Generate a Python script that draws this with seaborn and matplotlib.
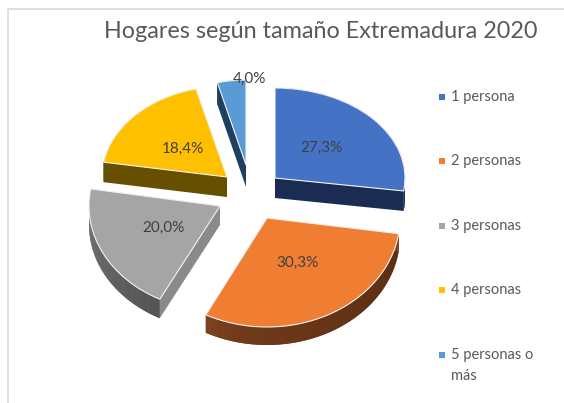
import numpy as np
import matplotlib
matplotlib.use("Agg")
import matplotlib.pyplot as plt
from matplotlib.colors import to_rgb
from matplotlib.transforms import Affine2D
import seaborn as sns

# data
categories = ["1 persona", "2 personas", "3 personas", "4 personas", "5 personas o\nmás"]
shares = [27.3, 30.3, 20.0, 18.4, 4.0]
labels = ["27,3%", "30,3%", "20,0%", "18,4%", "4,0%"]
title = "Hogares según tamaño Extremadura 2020"

# look
top_colors = sns.color_palette(["#4472C4", "#F07E32", "#A5A5A5", "#FFC000", "#5B9BD5"])
arc_light = ["#1A2C52", "#7D431F", "#8C8C8C", "#665000", "#1E3F5F"]
arc_dark = ["#1A2C52", "#5C2E13", "#555555", "#665000", "#1E3F5F"]
face_colors = ["#1A2C52", "#7D431F", "#8A8A8A", "#665000", "#1E3F5F"]

# fake 3D: apex of each slice in pixels, x/y radius, thickness
apex_x = [275, 267, 220, 227, 246]
apex_y = [178, 218, 206, 177, 165]
rad_x = [130, 133, 131, 125, 115]
rad_y = [90, 109, 105, 91, 85]
depth = [20, 18, 19, 20, 22]
label_x = [321, 297, 163, 183, 249]
label_y = [148, 263, 228, 149, 79]
legend_y = [97, 161, 226, 290, 355]

sns.set_theme(style="white")
plt.rcParams["font.family"] = ["Lato", "DejaVu Sans"]

fig = plt.figure(figsize=(5.64, 4.03), dpi=100)
ax = fig.add_axes([0, 0, 1, 1])

wedges, _ = ax.pie(shares, colors=top_colors, startangle=90, counterclock=False,
                   wedgeprops={"edgecolor": "#F2F2F2", "linewidth": 0.8})
ax.set_aspect("auto")
ax.set_xlim(0, 564)
ax.set_ylim(403, 0)
ax.axis("off")


def rim(i, deg):
    t = np.radians(deg)
    return apex_x[i] + rad_x[i] * np.cos(t), apex_y[i] - rad_y[i] * np.sin(t)


for i, w in enumerate(wedges):
    # move the unit slice to its place
    w.set_transform(Affine2D().scale(rad_x[i], -rad_y[i]).translate(apex_x[i], apex_y[i]) + ax.transData)
    w.set_zorder(3)
    d = depth[i]

    # curved side: solid band first so the seams of the shading strips don't show
    steps = np.linspace(w.theta1, w.theta2, int((w.theta2 - w.theta1) / 3) + 2)
    light = np.array(to_rgb(arc_light[i]))
    dark = np.array(to_rgb(arc_dark[i]))
    rx, ry = rim(i, steps)
    ax.fill(np.r_[rx, rx[::-1]], np.r_[ry, ry[::-1] + d], color=(light + dark) / 2, lw=0, zorder=1)
    for k in range(len(steps) - 1):
        f = np.sqrt(k / (len(steps) - 2))
        ax.fill([rx[k], rx[k + 1], rx[k + 1], rx[k]], [ry[k], ry[k + 1], ry[k + 1] + d, ry[k] + d],
                color=(1 - f) * light + f * dark, lw=0, zorder=1)

    # flat sides
    for deg in (w.theta1, w.theta2):
        xr, yr = rim(i, deg)
        ax.fill([apex_x[i], xr, xr, apex_x[i]], [apex_y[i], yr, yr + d, apex_y[i] + d],
                color=face_colors[i], lw=0, zorder=2)

    ax.text(label_x[i], label_y[i], labels[i], ha="center", va="center",
            fontsize=11, color="#404040", zorder=5)

# legend on the right
for i, cat in enumerate(categories):
    ax.scatter([442], [legend_y[i]], marker="s", s=18, color=top_colors[i], linewidths=0, zorder=5)
    ax.text(451, legend_y[i] - 7, cat, ha="left", va="top", fontsize=10.5, color="#595959",
            linespacing=1.6, zorder=5)

ax.text(321, 31, title, ha="center", va="center", fontsize=16.8, color="#595959")

# chart area border, only part of it is in the crop
ax.plot([8, 8, 564], [403, 9, 9], color="#D9D9D9", lw=1.2, zorder=0)

fig.savefig("out.png", dpi=100)
